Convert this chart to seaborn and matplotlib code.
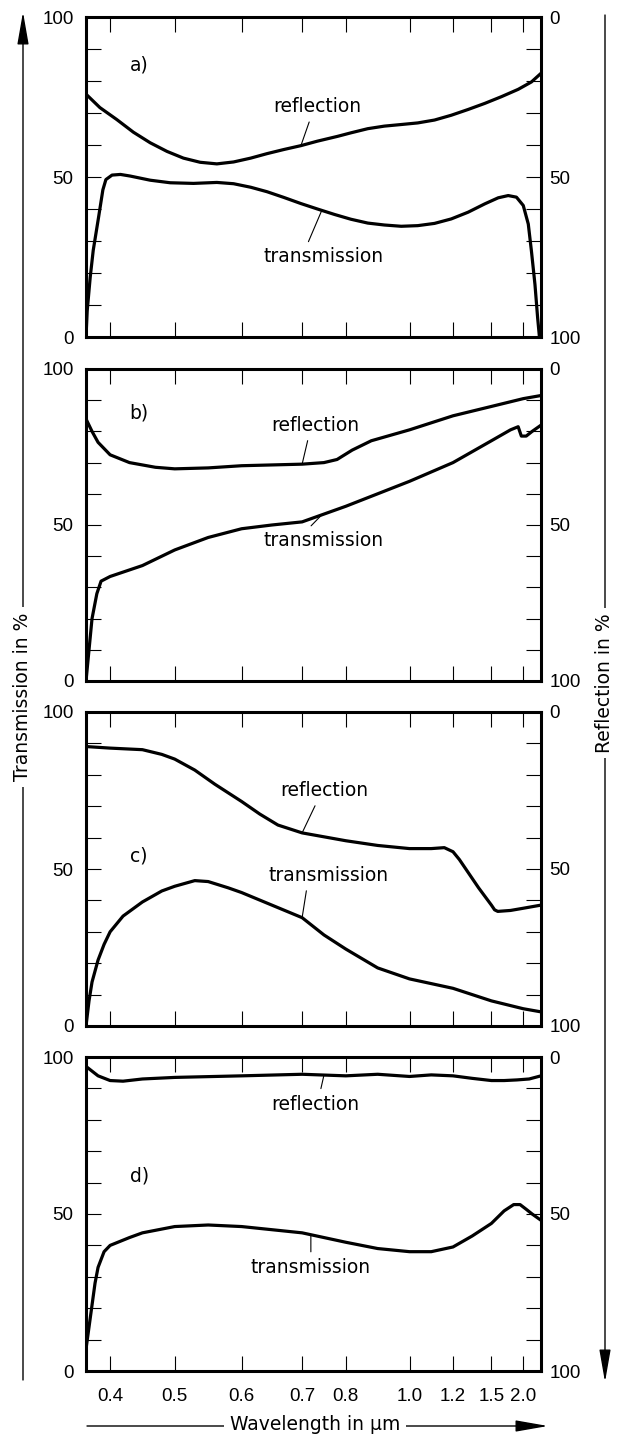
import numpy as np
import pandas as pd
import seaborn as sns
import matplotlib.pyplot as plt
from matplotlib import font_manager

# wavelength axis of the original is neither linear nor log:
# tick wavelengths and their relative position along the axis
SCALE_LAM = [0.05, 0.36, 0.4, 0.5, 0.6, 0.7, 0.8, 1.0, 1.2, 1.5, 2.0, 2.3, 20.0]
SCALE_POS = [-0.3, 0.0, 0.053, 0.195, 0.342, 0.475, 0.571, 0.711, 0.8066, 0.891, 0.961, 1.0, 2.0]
XTICKS = [0.4, 0.5, 0.6, 0.7, 0.8, 1.0, 1.2, 1.5, 2.0]
XTICKLABELS = ['0.4', '0.5', '0.6', '0.7', '0.8', '1.0', '1.2', '1.5', '2.0']

#%% data, reflection in % on the reversed right axis
a_refl_wl = [0.36, 0.383, 0.41, 0.436, 0.462, 0.488, 0.513, 0.538, 0.563, 0.588, 0.615, 0.642, 0.67, 0.698,
             0.735, 0.781, 0.816, 0.869, 0.921, 0.974, 1.038, 1.115, 1.192, 1.318, 1.448, 1.657, 1.921,
             2.138, 2.3]
a_refl = [24.1, 28.3, 32.0, 36.0, 39.3, 42.0, 44.1, 45.4, 45.9, 45.3, 44.1, 42.7, 41.4, 40.2,
          38.8, 37.3, 36.2, 34.9, 34.1, 33.6, 33.1, 32.2, 30.7, 28.9, 27.0, 24.9, 22.6,
          20.3, 17.6]
a_trans_wl = [0.36, 0.362, 0.367, 0.372, 0.381, 0.388, 0.393, 0.403, 0.416, 0.431, 0.462, 0.493, 0.528,
              0.563, 0.588, 0.615, 0.642, 0.67, 0.698, 0.735, 0.774, 0.816, 0.869, 0.921, 0.974, 1.038,
              1.115, 1.192, 1.318, 1.448, 1.607, 1.764, 1.893, 2.0, 2.085, 2.138, 2.198, 2.243, 2.272]
a_trans = [0.0, 8.2, 18.7, 27.1, 37.6, 46.0, 49.2, 50.6, 50.8, 50.3, 49.0, 48.2, 48.0,
           48.3, 47.9, 46.8, 45.4, 43.6, 41.7, 40.0, 38.3, 36.8, 35.6, 35.0, 34.6, 34.8,
           35.5, 36.9, 39.0, 41.6, 43.5, 44.2, 43.7, 41.1, 35.3, 26.9, 16.4, 6.0, 0.3]

b_refl_wl = [0.36, 0.37, 0.38, 0.4, 0.43, 0.47, 0.5, 0.55, 0.6, 0.7, 0.75, 0.78, 0.82, 0.88, 1.0, 1.2,
             1.5, 2.0, 2.3]
b_refl = [16.0, 20.0, 23.5, 27.5, 30.0, 31.5, 32.0, 31.7, 31.0, 30.5, 30.0, 29.0, 26.0, 23.0, 19.5, 15.0,
          12.0, 9.5, 8.5]
b_trans_wl = [0.36, 0.365, 0.37, 0.378, 0.385, 0.4, 0.45, 0.5, 0.55, 0.6, 0.65, 0.7, 0.75, 0.8, 0.9, 1.0,
              1.2, 1.5, 1.8, 1.92, 1.97, 2.05, 2.15, 2.3]
b_trans = [0.0, 10.0, 20.0, 28.0, 32.0, 33.5, 37.0, 42.0, 46.0, 48.8, 50.0, 51.0, 53.5, 56.0, 60.0, 64.0,
           70.0, 77.0, 80.5, 81.5, 78.5, 78.5, 80.0, 82.0]

c_refl_wl = [0.36, 0.4, 0.45, 0.48, 0.5, 0.53, 0.56, 0.6, 0.63, 0.66, 0.7, 0.72, 0.76, 0.8, 0.9, 1.0, 1.1,
             1.16, 1.2, 1.25, 1.3, 1.4, 1.5, 1.55, 1.6, 1.8, 2.0, 2.3]
c_refl = [11.0, 11.5, 12.0, 13.5, 15.0, 18.5, 23.0, 28.5, 32.5, 36.0, 38.5, 39.0, 40.0, 41.0, 42.5, 43.5, 43.5,
          43.2, 44.5, 47.0, 50.0, 56.0, 61.5, 63.0, 63.5, 63.2, 62.5, 61.5]
c_trans_wl = [0.36, 0.365, 0.37, 0.38, 0.39, 0.4, 0.42, 0.45, 0.48, 0.5, 0.53, 0.55, 0.58, 0.6, 0.65, 0.7,
              0.75, 0.8, 0.9, 1.0, 1.1, 1.2, 1.5, 2.0, 2.3]
c_trans = [0.0, 8.0, 14.0, 21.0, 26.0, 30.0, 35.0, 39.5, 43.0, 44.5, 46.3, 46.0, 44.0, 42.5, 38.5, 34.5,
           29.0, 24.5, 18.5, 15.0, 13.5, 12.0, 8.0, 5.5, 4.5]

d_refl_wl = [0.36, 0.37, 0.38, 0.4, 0.42, 0.45, 0.5, 0.6, 0.7, 0.8, 0.9, 1.0, 1.1, 1.2, 1.35, 1.5, 1.7,
             1.9, 2.1, 2.3]
d_refl = [3.0, 4.5, 6.0, 7.5, 7.7, 7.0, 6.5, 6.0, 5.5, 6.0, 5.5, 6.2, 5.7, 6.0, 6.8, 7.5, 7.5,
          7.3, 7.0, 6.0]
d_trans_wl = [0.36, 0.365, 0.37, 0.375, 0.38, 0.39, 0.4, 0.43, 0.45, 0.5, 0.55, 0.6, 0.7, 0.8, 0.9, 1.0,
              1.1, 1.2, 1.35, 1.5, 1.7, 1.85, 1.95, 2.05, 2.15, 2.3]
d_trans = [7.0, 14.0, 21.0, 28.0, 33.0, 38.0, 40.0, 42.5, 44.0, 46.0, 46.5, 46.0, 44.0, 41.0, 39.0, 38.0,
           38.0, 39.5, 43.0, 47.0, 51.0, 53.0, 53.0, 51.5, 50.0, 48.0]

panel_names = ['a)', 'b)', 'c)', 'd)']

#%% fonts
sns.set_style('ticks')
installed = {f.name for f in font_manager.fontManager.ttflist}
num_font = 'Liberation Sans' if 'Liberation Sans' in installed else 'DejaVu Sans'
plt.rcParams['font.family'] = ['DejaVu Sans']
plt.rcParams['text.color'] = 'black'
plt.rcParams['xtick.color'] = 'black'
plt.rcParams['ytick.color'] = 'black'
plt.rcParams['axes.edgecolor'] = 'black'


def fwd(x):
    return np.interp(x, SCALE_LAM, SCALE_POS)


def inv(y):
    return np.interp(y, SCALE_POS, SCALE_LAM)


panels = [
    (a_refl_wl, a_refl, a_trans_wl, a_trans),
    (b_refl_wl, b_refl, b_trans_wl, b_trans),
    (c_refl_wl, c_refl, c_trans_wl, c_trans),
    (d_refl_wl, d_refl, d_trans_wl, d_trans),
]

# panel label, reflection text + leader, transmission text + leader (wavelength, transmission-axis value)
labels = [
    ((0.445, 85), (0.735, 72), 0.698, (0.75, 25), 0.745, (0.43, 0.35)),
    ((0.445, 86), (0.73, 82), 0.70, (0.75, 45), 0.745, (0.43, 0.35)),
    ((0.445, 54), (0.75, 75), 0.70, (0.76, 48), 0.70, (0.43, 0.35)),
    ((0.445, 62), (0.73, 85), 0.75, (0.72, 33), 0.72, (0.5, 0.5)),
]

fig = plt.figure(figsize=(6.21, 14.36), dpi=100)
W, H = 621, 1436
left_px, right_px = 86, 541
tops = [17, 369, 712, 1057]
bottoms = [337, 681, 1026, 1371]

for i, (rw, r, tw, t) in enumerate(panels):
    ax = fig.add_axes([left_px / W, 1 - bottoms[i] / H, (right_px - left_px) / W, (bottoms[i] - tops[i]) / H])
    ax.set_xscale('function', functions=(fwd, inv))
    ax2 = ax.twinx()

    df_t = pd.DataFrame({'wavelength': tw, 'transmission': t})
    df_r = pd.DataFrame({'wavelength': rw, 'reflection': r})
    sns.lineplot(data=df_t, x='wavelength', y='transmission', ax=ax, color='black', lw=2.3,
                 estimator=None, sort=False)
    sns.lineplot(data=df_r, x='wavelength', y='reflection', ax=ax2, color='black', lw=2.3,
                 estimator=None, sort=False)

    ax.set_xlim(0.36, 2.3)
    ax.set_ylim(0, 100)
    ax2.set_ylim(100, 0)
    ax.set_xticks(XTICKS)
    ax.set_xticks([], minor=True)
    ax.set_xticklabels(XTICKLABELS, fontfamily=num_font, fontsize=13.5)
    ax.set_yticks(range(0, 101, 10))
    ax.set_yticklabels([str(v) if v % 50 == 0 else '' for v in range(0, 101, 10)],
                       fontfamily=num_font, fontsize=13.5)
    ax2.set_yticks([0, 50, 100])
    ax2.set_yticklabels(['0', '50', '100'], fontfamily=num_font, fontsize=13.5)
    ax.tick_params(axis='both', direction='in', length=11, width=0.8, top=True, right=True)
    ax.tick_params(axis='x', pad=12, labelbottom=(i == 3))
    ax.tick_params(axis='y', pad=9)
    ax2.tick_params(axis='y', length=0, pad=6)
    for sp in ax.spines.values():
        sp.set_linewidth(2.2)
    for sp in ax2.spines.values():
        sp.set_visible(False)
    ax.set_xlabel('')
    ax.set_ylabel('')
    ax2.set_ylabel('')

    lab, rtxt, rwl, ttxt, twl, rel = labels[i]
    ax.text(lab[0], lab[1], panel_names[i], fontsize=13.5, ha='center', va='center')
    r_on_curve = 100 - np.interp(rwl, rw, r)
    t_on_curve = np.interp(twl, tw, t)
    ax.annotate('reflection', xy=(rwl, r_on_curve), xytext=rtxt, fontsize=13.5, ha='center', va='center',
                arrowprops=dict(arrowstyle='-', lw=0.8, color='black', shrinkA=2, shrinkB=0,
                                relpos=(rel[0], 0)))
    ax.annotate('transmission', xy=(twl, t_on_curve), xytext=ttxt, fontsize=13.5, ha='center', va='center',
                arrowprops=dict(arrowstyle='-', lw=0.8, color='black', shrinkA=2, shrinkB=0,
                                relpos=(rel[1], 1)))

# axis arrows round the figure
arrow = dict(arrowstyle='-|>,head_length=2.0,head_width=0.35', color='black', lw=1.0,
             shrinkA=0, shrinkB=0)
fig.add_artist(plt.Annotation('', xy=(23, H - 12), xytext=(23, H - 1380),
                              xycoords='figure pixels', textcoords='figure pixels', arrowprops=arrow))
fig.add_artist(plt.Annotation('', xy=(605, H - 1382), xytext=(605, H - 15),
                              xycoords='figure pixels', textcoords='figure pixels', arrowprops=arrow))
fig.add_artist(plt.Annotation('', xy=(548, H - 1426), xytext=(87, H - 1426),
                              xycoords='figure pixels', textcoords='figure pixels', arrowprops=arrow))
box = dict(fc='white', ec='none', pad=4)
fig.text(23 / W, 1 - 697 / H, 'Transmission in %', rotation=90, ha='center', va='center', fontsize=13.5, bbox=box)
fig.text(605 / W, 1 - 683 / H, 'Reflection in %', rotation=90, ha='center', va='center', fontsize=13.5, bbox=box)
fig.text(315 / W, 1 - 1425 / H, 'Wavelength in µm', ha='center', va='center', fontsize=13.5, bbox=box)

fig.savefig('out.png', dpi=100)
